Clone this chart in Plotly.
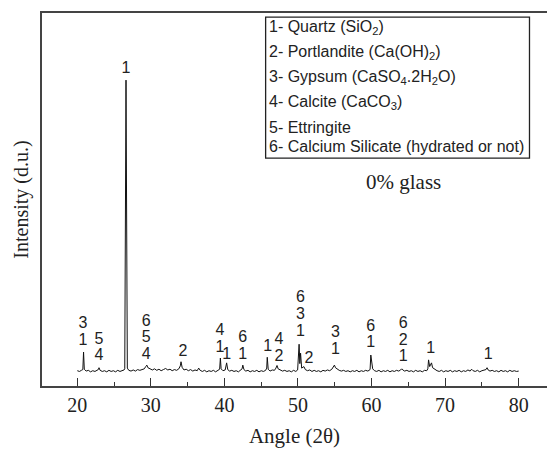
import plotly.graph_objects as go

# Diffractogram: 2-theta (deg) and relative intensity, 20-80 deg
two_theta = [
    # 20-25
    20.0, 20.3, 20.55, 20.75, 20.85, 20.95, 21.2, 21.5, 21.8, 22.1, 22.4, 22.7, 22.85, 22.95, 23.1, 23.4, 23.7, 24.0, 24.3, 24.6, 24.9,
    # 25-30
    25.2, 25.5, 25.8, 26.1, 26.35, 26.45, 26.62, 26.8, 27.0, 27.3, 27.6, 27.9, 28.2, 28.5, 28.8, 29.1, 29.3, 29.45, 29.6, 29.9,
    # 30-35
    30.2, 30.5, 30.8, 31.1, 31.4, 31.7, 32.0, 32.3, 32.6, 32.9, 33.2, 33.5, 33.8, 34.0, 34.1, 34.25, 34.5, 34.8,
    # 35-41
    35.1, 35.4, 35.7, 36.0, 36.3, 36.5, 36.7, 37.0, 37.3, 37.6, 37.9, 38.2, 38.5, 38.8, 39.1, 39.35, 39.45, 39.55, 39.8, 40.1, 40.3, 40.45, 40.7,
    # 41-48
    41.0, 41.3, 41.6, 41.9, 42.2, 42.4, 42.5, 42.65, 42.9, 43.2, 43.5, 43.8, 44.1, 44.4, 44.7, 45.0, 45.3, 45.6, 45.75, 45.82, 45.95, 46.2, 46.5, 46.8, 47.0, 47.15, 47.3, 47.6, 47.9,
    # 48-56
    48.2, 48.5, 48.8, 49.1, 49.4, 49.7, 49.95, 50.05, 50.15, 50.25, 50.35, 50.5, 50.8, 51.0, 51.3, 51.6, 51.9, 52.2, 52.5, 52.8,
    53.1, 53.4, 53.7, 54.0, 54.3, 54.6, 54.8, 54.95, 55.1, 55.3, 55.6, 55.9,
    # 56-62
    56.2, 56.5, 56.8, 57.1, 57.4, 57.7, 58.0, 58.3, 58.6, 58.9, 59.2, 59.5, 59.8, 59.9, 60.0, 60.15, 60.4, 60.7, 61.0, 61.3, 61.6, 61.9,
    # 62-69
    62.2, 62.5, 62.8, 63.1, 63.4, 63.7, 63.95, 64.1, 64.25, 64.5, 64.8, 65.1, 65.4, 65.7, 66.0, 66.3, 66.6, 66.9, 67.2, 67.5,
    67.65, 67.75, 67.9, 68.05, 68.15, 68.3, 68.6, 68.9,
    # 69-80
    69.2, 69.5, 69.8, 70.1, 70.4, 70.7, 71.0, 71.3, 71.6, 71.9, 72.2, 72.5, 72.8, 73.1, 73.4, 73.6, 73.8, 74.1, 74.4, 74.7,
    75.0, 75.3, 75.55, 75.7, 75.85, 76.1, 76.4, 76.7, 77.0, 77.3, 77.6, 77.9, 78.2, 78.5, 78.8, 79.1, 79.4, 79.7, 80.0,
]

intensity = [
    4.1, 3.9, 4.2, 4.4, 9.1, 4.5, 4.0, 4.2, 3.8, 4.1, 3.9, 4.2, 4.4, 4.9, 4.2, 3.9, 4.1, 3.8, 4.2, 3.9, 4.1,
    3.8, 4.2, 3.9, 4.1, 4.3, 4.6, 82.0, 4.8, 4.2, 4.0, 4.3, 4.0, 4.4, 4.2, 4.5, 4.6, 5.2, 5.6, 4.9, 4.6,
    4.3, 4.6, 4.2, 4.5, 4.1, 4.4, 4.7, 4.3, 4.5, 4.1, 4.4, 4.2, 4.6, 5.4, 6.5, 5.0, 4.3, 4.5,
    4.1, 4.4, 4.0, 4.3, 4.1, 4.8, 4.2, 3.9, 4.2, 3.8, 4.1, 3.9, 4.2, 3.8, 4.1, 4.5, 7.5, 4.6, 4.1, 4.3, 6.2, 4.4, 4.0,
    4.2, 3.9, 4.1, 3.8, 4.2, 4.6, 5.6, 4.4, 4.0, 4.2, 3.8, 4.1, 3.9, 4.2, 3.8, 4.1, 3.9, 4.2, 4.8, 7.7, 4.5, 4.0, 4.3, 4.2, 4.8, 5.5, 4.6, 4.2, 4.0,
    4.2, 3.9, 4.1, 3.8, 4.2, 3.9, 4.3, 8.0, 11.2, 6.0, 8.8, 4.8, 5.2, 4.4, 4.1, 4.3, 3.9, 4.2, 3.9, 4.1,
    3.8, 4.2, 4.0, 4.3, 4.1, 4.5, 5.0, 5.6, 4.9, 4.6, 4.2, 4.0,
    4.2, 3.9, 4.1, 3.8, 4.1, 3.9, 4.2, 3.8, 4.1, 3.9, 4.2, 4.0, 4.4, 8.3, 6.4, 4.6, 4.1, 3.9, 4.2, 3.8, 4.1, 3.9,
    4.2, 3.8, 4.1, 3.9, 4.2, 4.0, 4.3, 4.6, 4.3, 4.0, 4.2, 3.9, 4.1, 3.8, 4.2, 3.9, 4.1, 3.8, 4.2, 4.1,
    4.6, 7.0, 5.2, 5.6, 6.2, 4.9, 4.4, 4.1,
    3.9, 4.2, 3.8, 4.1, 3.9, 4.2, 3.8, 4.1, 3.9, 4.2, 3.8, 4.1, 3.9, 4.3, 4.0, 4.5, 4.1, 3.9, 4.2, 3.8,
    4.1, 4.3, 4.4, 4.9, 4.3, 4.0, 4.2, 3.9, 4.1, 3.8, 4.2, 3.9, 4.1, 3.8, 4.2, 3.9, 4.1, 3.9, 4.0,
]
assert len(two_theta) == len(intensity)

# Phase identification: label angle, level of the lowest digit, phase ids (bottom to top)
label_angle = [20.75, 22.95, 26.62, 29.38, 34.35, 39.4, 40.3, 42.5, 45.87, 47.4, 50.35, 51.5, 55.1, 59.9, 64.3, 68.05, 75.85]
label_base = [12.1, 8.0, 85.0, 8.3, 9.2, 10.3, 8.3, 8.3, 10.5, 7.9, 14.6, 7.2, 9.7, 11.4, 7.7, 9.8, 8.3]
label_ids = [["1", "3"], ["4", "5"], ["1"], ["4", "5", "6"], ["2"], ["1", "4"], ["1"], ["1", "6"],
             ["1"], ["2", "4"], ["1", "3", "6"], ["2"], ["1", "3"], ["1", "6"], ["1", "2", "6"], ["1"], ["1"]]
label_step = 4.45

phase_names = [
    "1- Quartz (SiO<sub>2</sub>)",
    "2- Portlandite (Ca(OH)<sub>2</sub>)",
    "3- Gypsum (CaSO<sub>4</sub>.2H<sub>2</sub>O)",
    "4- Calcite (CaCO<sub>3</sub>)",
    "5- Ettringite",
    "6- Calcium Silicate (hydrated or not)",
]
phase_rows = [96.0, 89.4, 82.6, 76.1, 69.2, 64.1]

tick_values = [20, 30, 40, 50, 60, 70, 80]
minor_values = [25, 35, 45, 55, 65, 75]

SERIF = "Liberation Serif, Times New Roman, serif"
SANS = "Liberation Sans, Arial, sans-serif"

fig = go.Figure()

fig.add_trace(go.Scatter(
    x=two_theta, y=intensity, mode="lines",
    line=dict(color="#111111", width=1), hoverinfo="skip", showlegend=False,
))

# stacked phase numbers above the reflections
tx, ty, tt = [], [], []
for ang, base, ids in zip(label_angle, label_base, label_ids):
    for k, pid in enumerate(ids):
        tx.append(ang)
        ty.append(base + k * label_step)
        tt.append(pid)
fig.add_trace(go.Scatter(
    x=tx, y=ty, text=tt, mode="text",
    textfont=dict(family=SANS, size=16, color="#222222"),
    textposition="middle center", hoverinfo="skip", showlegend=False,
))

# key to the phase numbers
fig.add_shape(type="rect", xref="x", yref="y", x0=45.6, x1=81.47, y0=61.1, y1=98.9,
              line=dict(color="#222222", width=1.3), fillcolor="rgba(0,0,0,0)")
for name, row in zip(phase_names, phase_rows):
    fig.add_annotation(x=45.75, y=row, xref="x", yref="y", text=name, showarrow=False,
                       xanchor="left", yanchor="middle",
                       font=dict(family=SANS, size=16, color="#222222"))

fig.add_annotation(x=64.4, y=54.7, xref="x", yref="y", text="0% glass", showarrow=False,
                   font=dict(family=SERIF, size=21, color="#222222"))

fig.update_layout(
    width=547, height=454,
    margin=dict(l=42, r=0, t=13, b=68),
    paper_bgcolor="white", plot_bgcolor="white",
    showlegend=False,
    xaxis=dict(
        range=[15.2, 83.85], tickmode="array", tickvals=tick_values,
        ticks="inside", ticklen=8, tickwidth=1.2, tickcolor="#333333",
        minor=dict(tickvals=minor_values, ticks="inside", ticklen=4, tickwidth=1.2, tickcolor="#333333"),
        showline=True, linecolor="#444444", linewidth=1.5, mirror=True,
        showgrid=False, zeroline=False,
        tickfont=dict(family=SERIF, size=20, color="#222222"),
        title=dict(text="Angle (2θ)", font=dict(family=SERIF, size=21, color="#222222"), standoff=14),
    ),
    yaxis=dict(
        range=[0, 100], showticklabels=False, ticks="",
        showline=True, linecolor="#444444", linewidth=1.5, mirror=False,
        showgrid=False, zeroline=False,
        title=dict(text="Intensity (d.u.)", font=dict(family=SERIF, size=20, color="#222222"), standoff=6),
    ),
)

fig.write_html("out.html")
